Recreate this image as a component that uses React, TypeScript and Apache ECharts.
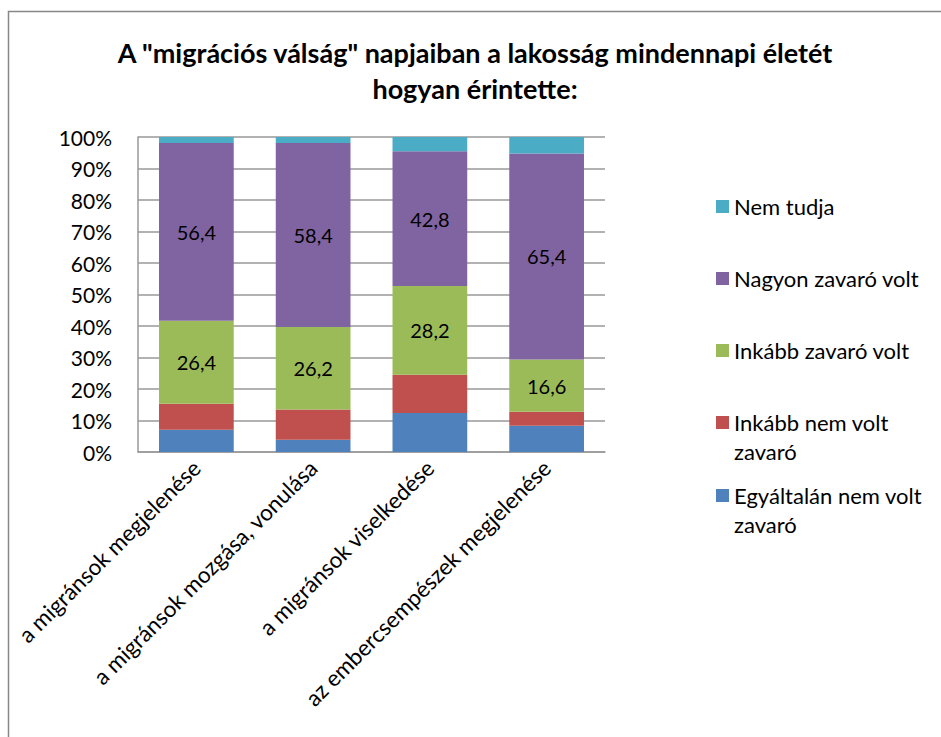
import { useEffect, useRef } from "react";
import * as echarts from "echarts";

const categories = [
  "a migránsok megjelenése",
  "a migránsok mozgása, vonulása",
  "a migránsok viselkedése",
  "az embercsempészek megjelenése",
];
const egyaltalanNem = [7.1, 3.9, 12.4, 8.3];
const inkabbNem = [8.2, 9.6, 12.1, 4.5];
const inkabbZavaro = [26.4, 26.2, 28.2, 16.6];
const nagyonZavaro = [56.4, 58.4, 42.8, 65.4];
const nemTudja = [1.9, 1.9, 4.5, 5.2];

const seriesNames = [
  "Egyáltalán nem volt zavaró",
  "Inkább nem volt zavaró",
  "Inkább zavaró volt",
  "Nagyon zavaró volt",
  "Nem tudja",
];
const legendLabels: Record<string, string> = {
  "Egyáltalán nem volt zavaró": "Egyáltalán nem volt\nzavaró",
  "Inkább nem volt zavaró": "Inkább nem volt\nzavaró",
  "Inkább zavaró volt": "Inkább zavaró volt",
  "Nagyon zavaró volt": "Nagyon zavaró volt",
  "Nem tudja": "Nem tudja",
};
const colors = ["#4F81BD", "#C0504D", "#9BBB59", "#8064A2", "#4BACC6"];

const FONT = "Lato, 'Noto Sans', sans-serif";

export default function App() {
  const ref = useRef<HTMLDivElement>(null);
  useEffect(() => {
    if (!ref.current) return;
    const chart = echarts.init(ref.current, null, { renderer: "svg" });
    const values = [egyaltalanNem, inkabbNem, inkabbZavaro, nagyonZavaro, nemTudja];
    const labeled = [false, false, true, true, false];
    const LH = 29;
    const SQ = 13;
    const tallIcon = `path://M0 0h${SQ}v${SQ}h-${SQ}z M0 ${LH + SQ}`;
    const legendItem = (name: string, top: number, tall: boolean) => ({
      orient: "vertical",
      left: 716,
      top,
      padding: 0,
      itemWidth: SQ,
      itemHeight: tall ? LH + SQ : SQ,
      itemGap: 0,
      data: [{ name, icon: tall ? tallIcon : "rect" }],
      formatter: (n: string) => legendLabels[n] || n,
      textStyle: { fontFamily: FONT, fontSize: 22, color: "#000", lineHeight: LH },
      selectedMode: false,
    });
    chart.setOption({
      animation: false,
      backgroundColor: "#fff",
      color: colors,
      title: {
        text: 'A "migrációs válság" napjaiban a lakosság mindennapi életét\nhogyan érintette:',
        left: 470,
        textAlign: "center",
        top: 29,
        textStyle: {
          fontFamily: FONT,
          fontSize: 27,
          fontWeight: "bold",
          color: "#000",
          lineHeight: 36,
        },
      },
      graphic: [
        {
          type: "rect",
          shape: { x: 8.5, y: 11.5, width: 1000, height: 1000 },
          style: { fill: "none", stroke: "#888", lineWidth: 1.5 },
          silent: true,
          z: 100,
        },
      ],
      legend: [
        legendItem("Nem tudja", 192, false),
        legendItem("Nagyon zavaró volt", 264, false),
        legendItem("Inkább zavaró volt", 336, false),
        legendItem("Inkább nem volt zavaró", 408, true),
        legendItem("Egyáltalán nem volt zavaró", 481, true),
      ],
      grid: { left: 138, right: 336, top: 137, bottom: 285, containLabel: false },
      xAxis: {
        type: "category",
        data: categories,
        axisLine: { lineStyle: { color: "#999", width: 1.5 } },
        axisTick: { show: false },
        axisLabel: {
          rotate: 45,
          interval: 0,
          margin: 12,
          fontFamily: FONT,
          fontSize: 22.5,
          color: "#000",
        },
      },
      yAxis: {
        type: "value",
        min: 0,
        max: 100,
        interval: 10,
        axisLine: { show: true, lineStyle: { color: "#999", width: 1.5 } },
        axisTick: { show: false },
        splitLine: { lineStyle: { color: "#999", width: 1.5 } },
        axisLabel: {
          formatter: "{value}%",
          margin: 26,
          fontFamily: FONT,
          fontSize: 21,
          color: "#000",
        },
      },
      series: seriesNames.map((name, i) => ({
        name,
        type: "bar",
        stack: "total",
        barWidth: "64%",
        data: values[i],
        itemStyle: { color: colors[i] },
        label: labeled[i]
          ? {
              show: true,
              position: "inside",
              fontFamily: FONT,
              fontSize: 20,
              color: "#000",
              formatter: (p: any) => String(p.value).replace(".", ","),
            }
          : { show: false },
      })),
    });
    return () => chart.dispose();
  }, []);
  return (
    <div
      ref={ref}
      style={{ position: "fixed", left: 0, top: 0, width: 941, height: 737 }}
    />
  );
}
